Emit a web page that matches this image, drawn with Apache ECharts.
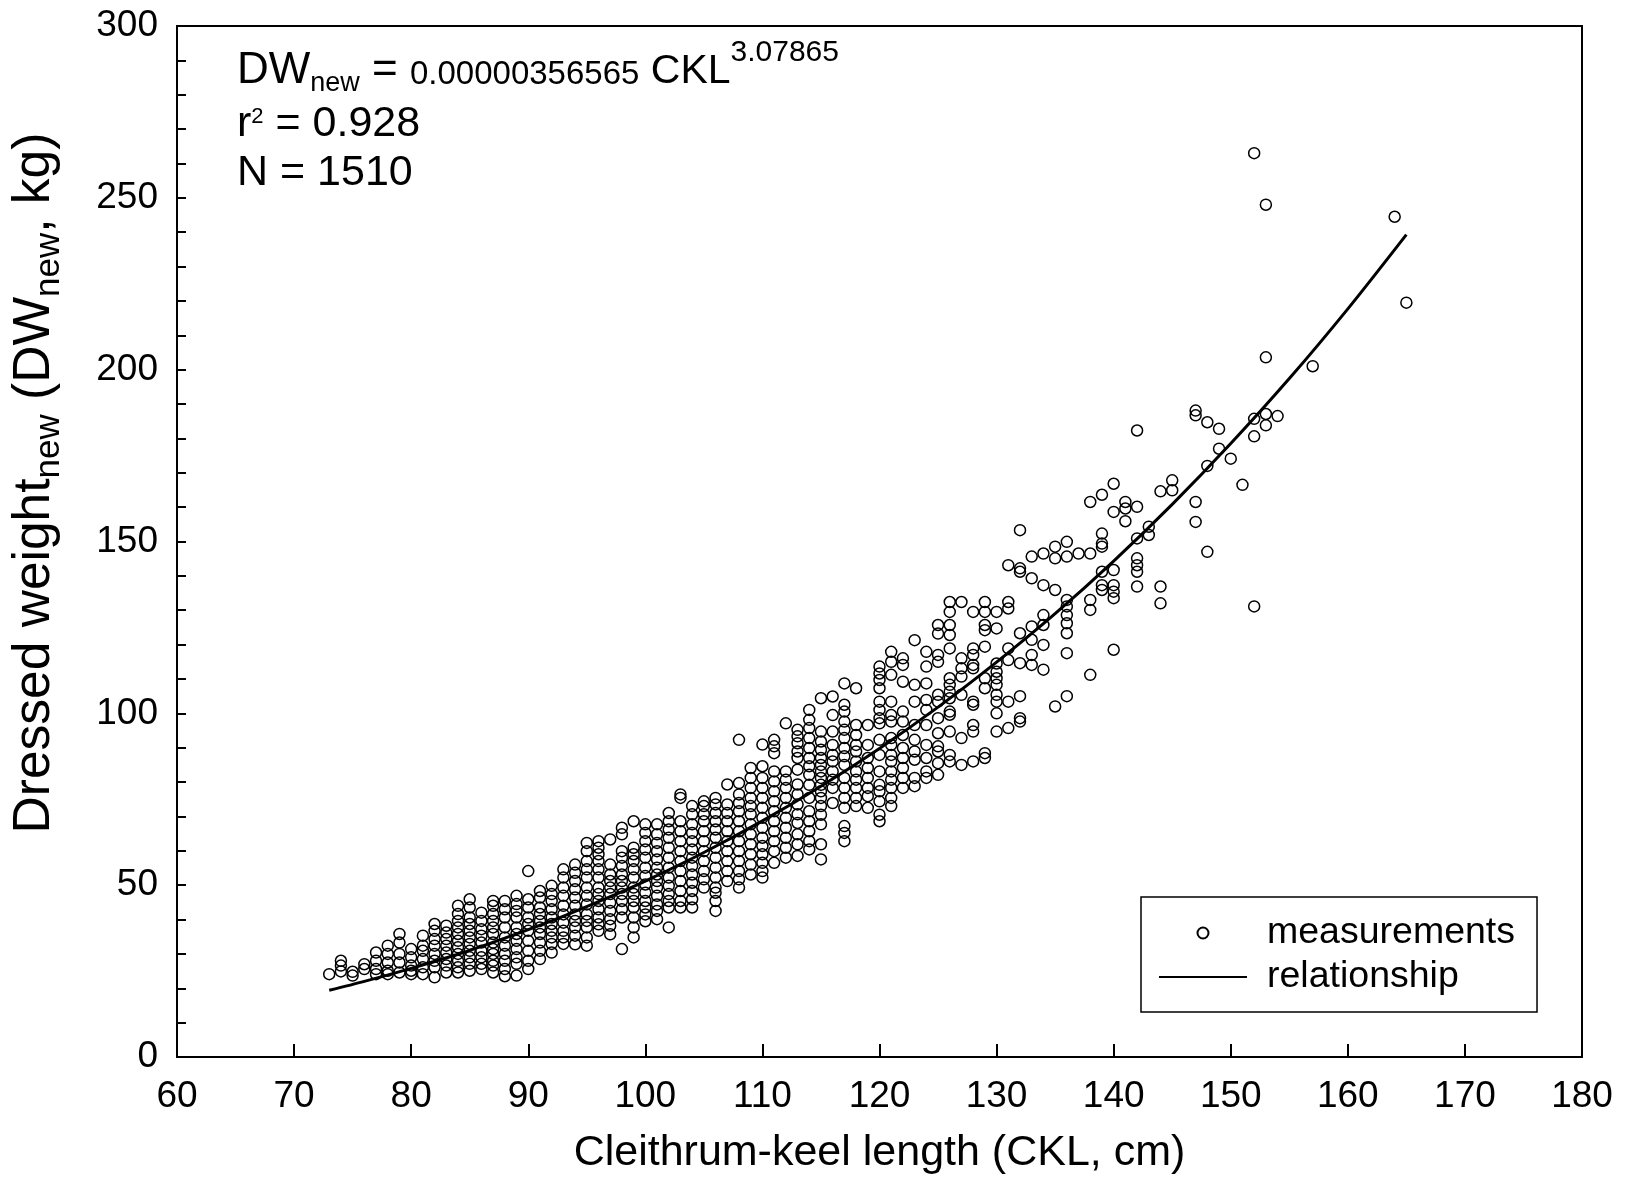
<!DOCTYPE html>
<html>
<head>
<meta charset="utf-8">
<script src="https://cdn.jsdelivr.net/npm/echarts@6/dist/echarts.min.js"></script>
<style>
html,body{margin:0;padding:0;background:#fff;}
#chart{width:1629px;height:1180px;}
</style>
</head>
<body>
<div id="chart"></div>
<script>
// Cleithrum-keel length columns (cm) and the dressed weights (kg) measured at each
const ckl = [73,74,75,76,77,78,79,80,81,82,83,84,85,86,87,88,89,90,91,92,93,94,95,96,97,98,99,100,
  101,102,103,104,105,106,107,108,109,110,111,112,113,114,115,116,117,118,119,120,121,122,123,124,125,
  126,127,128,129,130,131,132,133,134,135,136,137,138,139,140,141,142,143,144,145,147,148,149,150,151,
  152,153,154,157,164,165];
const dwColumns = [
  [24.1],
  [28.0, 26.6, 24.9],
  [24.8, 23.7],
  [27.0, 25.6],
  [30.4, 28.0, 25.6, 24.1],
  [32.4, 30.0, 27.5, 25.1, 24.1],
  [35.8, 33.3, 30.0, 27.5, 24.6],
  [31.4, 29.0, 26.6, 25.1, 24.1],
  [35.3, 32.4, 30.9, 28.5, 26.1, 24.1],
  [38.7, 36.7, 34.3, 32.4, 30.0, 28.0, 26.1, 23.2],
  [38.2, 36.2, 34.3, 32.4, 30.4, 28.5, 26.6, 24.6],
  [44.0, 41.6, 39.6, 37.7, 35.8, 33.8, 31.9, 30.0, 28.0, 26.1, 24.6],
  [45.9, 43.5, 40.6, 38.7, 36.7, 34.8, 32.9, 30.9, 29.0, 27.1, 25.1],
  [42.0, 39.6, 37.2, 35.3, 33.3, 30.9, 29.0, 27.1, 25.6],
  [45.4, 44.0, 41.6, 39.6, 37.7, 35.8, 33.3, 31.4, 30.0, 28.0, 26.6, 24.6],
  [45.4, 43.0, 40.6, 37.7, 34.8, 32.4, 30.0, 28.0, 25.6, 23.5],
  [46.9, 44.5, 42.5, 40.6, 37.7, 35.8, 33.8, 31.4, 29.0, 27.1, 23.7],
  [54.1, 45.9, 43.5, 40.6, 38.7, 36.7, 33.8, 30.9, 28.0, 25.6],
  [48.3, 46.4, 43.5, 41.6, 39.6, 37.7, 35.8, 33.3, 30.9, 28.5],
  [49.8, 47.4, 45.4, 43.0, 40.6, 38.7, 36.7, 34.8, 32.9, 30.4],
  [54.6, 52.2, 49.3, 46.9, 44.0, 41.5, 39.1, 36.7, 34.8, 32.9],
  [56.0, 53.6, 51.2, 48.8, 46.4, 44.0, 41.5, 39.6, 37.7, 35.3, 32.8],
  [62.3, 59.9, 57.0, 54.6, 52.2, 49.3, 46.9, 44.4, 41.5, 39.6, 37.7, 34.8, 32.4],
  [62.8, 60.9, 59.0, 57.0, 54.6, 52.2, 49.3, 47.4, 45.4, 43.0, 40.6, 38.6, 36.7],
  [63.3, 56.0, 53.1, 51.2, 49.3, 47.4, 44.9, 42.5, 40.1, 38.2, 35.7],
  [66.7, 64.8, 59.9, 58.0, 55.6, 53.1, 51.2, 49.3, 47.4, 45.4, 43.0, 40.6, 31.4],
  [68.6, 60.9, 59.0, 57.0, 54.6, 52.2, 49.3, 47.4, 45.4, 43.5, 40.6, 37.7, 34.8],
  [67.7, 65.2, 62.8, 60.4, 58.0, 55.1, 52.7, 50.2, 47.8, 45.4, 43.5, 41.5, 39.5],
  [67.7, 64.8, 62.3, 59.9, 57.5, 55.1, 53.1, 51.2, 49.3, 46.9, 44.4, 42.5, 40.1],
  [71.0, 68.6, 66.2, 63.8, 60.9, 58.0, 55.1, 52.2, 49.8, 47.4, 45.4, 43.5, 37.7],
  [76.4, 75.4, 68.6, 65.7, 62.8, 59.9, 57.0, 54.1, 51.2, 48.3, 45.4, 43.5],
  [73.0, 70.6, 67.7, 65.2, 62.8, 60.4, 58.0, 55.6, 53.1, 50.7, 48.3, 45.9, 43.5],
  [74.4, 73.0, 70.6, 68.6, 65.7, 62.8, 59.9, 57.0, 54.1, 51.7, 49.3],
  [75.4, 73.5, 71.0, 68.6, 66.2, 63.8, 60.9, 58.0, 55.1, 52.2, 49.3, 47.8, 45.4, 42.5],
  [79.3, 73.5, 71.0, 68.6, 65.7, 62.8, 59.9, 57.0, 54.1, 51.2],
  [92.3, 79.7, 76.4, 73.9, 71.5, 68.6, 65.7, 62.8, 59.9, 57.0, 54.1, 51.7, 49.3],
  [84.1, 81.2, 78.3, 75.4, 73.0, 70.6, 67.7, 64.8, 61.9, 59.0, 56.0, 53.1],
  [90.9, 84.6, 81.2, 78.3, 75.4, 72.5, 69.6, 66.7, 63.8, 61.4, 59.0, 56.5, 54.1, 52.2],
  [92.3, 90.4, 88.4, 83.1, 80.2, 77.3, 74.4, 71.5, 68.6, 65.7, 62.8, 59.9, 56.5],
  [97.1, 83.1, 80.7, 78.3, 75.4, 72.5, 69.6, 66.7, 63.8, 60.9, 58.0],
  [95.2, 93.3, 91.3, 88.9, 87.0, 83.6, 79.3, 76.4, 73.5, 70.6, 68.1, 64.8, 61.9, 58.5],
  [101.0, 98.1, 95.7, 92.8, 89.9, 87.0, 84.6, 82.1, 79.2, 75.4, 71.5, 68.6, 65.7, 62.8, 60.4],
  [104.4, 94.7, 91.8, 89.4, 87.0, 85.0, 83.1, 81.2, 79.2, 77.3, 75.4, 73.0, 70.5, 67.7, 61.9, 57.5],
  [104.9, 99.5, 94.7, 90.8, 87.9, 86.0, 83.1, 80.7, 78.3, 73.9],
  [108.7, 102.5, 100.5, 97.6, 95.2, 92.8, 89.9, 87.5, 85.0, 81.2, 78.3, 75.4, 72.5, 67.2, 65.2, 62.8],
  [107.3, 96.6, 93.7, 90.8, 88.9, 86.0, 83.1, 80.7, 78.3, 75.4, 73.0],
  [96.6, 90.8, 87.0, 84.1, 81.2, 78.3, 75.9, 72.5],
  [113.6, 111.6, 109.7, 107.3, 103.4, 101.0, 98.6, 97.1, 92.3, 87.9, 83.1, 79.2, 77.3, 74.4, 70.5, 68.6],
  [117.9, 115.0, 111.2, 103.4, 99.5, 97.6, 92.8, 90.8, 87.9, 86.0, 83.1, 80.7, 78.3, 75.4, 73.0],
  [116.0, 114.1, 109.2, 100.5, 97.6, 93.7, 89.9, 87.0, 84.1, 81.2, 78.3],
  [121.3, 108.3, 103.4, 96.6, 92.3, 88.9, 86.5, 81.2, 78.8],
  [117.9, 113.6, 108.7, 103.9, 101.0, 96.6, 90.8, 87.0, 83.1, 81.2],
  [125.7, 123.2, 117.0, 115.0, 105.4, 103.4, 98.6, 94.2, 90.4, 88.9, 85.5, 82.1],
  [132.4, 129.5, 125.7, 122.8, 118.9, 110.2, 108.3, 106.3, 104.4, 100.5, 99.6, 94.7, 87.9, 86.0],
  [132.4, 116.0, 113.1, 110.7, 105.4, 92.8, 85.0],
  [129.5, 118.9, 117.0, 114.1, 113.1, 103.4, 102.5, 96.6, 94.7, 86.0],
  [132.4, 129.5, 125.7, 124.2, 119.4, 110.2, 107.3, 88.4, 87.0],
  [129.5, 124.7, 114.5, 112.1, 110.2, 108.3, 105.4, 103.4, 100.0, 94.7],
  [143.1, 132.4, 130.5, 118.9, 115.5, 103.4, 95.7],
  [153.3, 142.2, 141.2, 123.3, 114.6, 105.0, 98.6, 97.6],
  [145.6, 139.3, 125.3, 121.4, 117.0, 114.1],
  [146.5, 137.3, 128.6, 125.7, 119.9, 112.7],
  [148.5, 145.1, 135.9, 102.0],
  [149.9, 145.6, 133.0, 131.1, 128.6, 126.2, 123.3, 117.5, 105.0],
  [146.5],
  [161.5, 146.5, 133.0, 130.1, 111.2],
  [163.6, 152.3, 149.4, 148.5, 141.2, 137.3, 135.9],
  [166.8, 158.6, 141.7, 137.3, 135.4, 133.5, 118.5],
  [161.5, 159.6, 155.9],
  [182.3, 160.1, 150.9, 145.1, 143.1, 141.2, 136.9],
  [154.3, 151.9],
  [164.6, 136.9, 132.0],
  [167.8, 164.9],
  [188.1, 186.7, 161.5, 155.7],
  [184.7, 172.0, 147.0],
  [182.8, 177.0],
  [174.1],
  [166.5],
  [263.0, 185.7, 180.6, 131.1],
  [248.0, 203.6, 187.1, 183.8],
  [186.5],
  [201.0],
  [244.5],
  [219.5]
];

// fitted relationship
const curveCkl = [73, 76, 80, 84, 88, 92, 96, 100, 105, 110, 115, 120, 125, 130, 135, 140, 145, 150, 155, 160, 165];
const curveDw  = [19.4, 22.0, 25.8, 29.9, 34.6, 39.6, 45.2, 51.2, 59.5, 68.7, 78.8, 89.8, 101.8, 114.9, 129.0, 144.3, 160.8, 178.5, 197.4, 217.7, 239.3];

// axis ranges
const xRange = {min: 60, max: 180, step: 10};
const yRange = {min: 0, max: 300, step: 50};

const FONT = "'Liberation Sans', Arial, Helvetica, sans-serif";

const measurements = [];
ckl.forEach((x, i) => dwColumns[i].forEach(y => measurements.push([x, y])));
const relationship = curveCkl.map((x, i) => [x, curveDw[i]]);

const chart = echarts.init(document.getElementById('chart'), null, {renderer: 'canvas'});

chart.setOption({
  animation: false,
  backgroundColor: '#ffffff',
  grid: {left: 177, right: 47, top: 26, bottom: 121, show: true, borderColor: '#000', borderWidth: 2, backgroundColor: 'transparent'},
  xAxis: {
    type: 'value', min: xRange.min, max: xRange.max, interval: xRange.step,
    name: 'Cleithrum-keel length (CKL, cm)', nameLocation: 'middle', nameGap: 75,
    nameTextStyle: {fontSize: 43, color: '#000', fontFamily: FONT},
    axisLine: {show: true, lineStyle: {color: '#000', width: 2}},
    axisTick: {show: true, inside: true, length: 13, lineStyle: {color: '#000', width: 2}},
    axisLabel: {fontSize: 37, color: '#000', fontFamily: FONT, margin: 21},
    splitLine: {show: false}
  },
  yAxis: {
    type: 'value', min: yRange.min, max: yRange.max, interval: yRange.step,
    axisLine: {show: true, lineStyle: {color: '#000', width: 2}},
    axisTick: {show: true, inside: true, length: 9, lineStyle: {color: '#000', width: 2}},
    minorTick: {show: true, splitNumber: 5, length: 9, lineStyle: {color: '#000', width: 2}},
    axisLabel: {fontSize: 37, color: '#000', fontFamily: FONT, margin: 19},
    splitLine: {show: false}, minorSplitLine: {show: false}
  },
  legend: {
    orient: 'vertical', left: 1141, top: 897,
    padding: [16, 22, 15, 17],
    itemWidth: 88, itemHeight: 11, itemGap: 4,
    borderColor: '#000', borderWidth: 1.5, borderRadius: 0,
    textStyle: {fontSize: 37.5, color: '#000', fontFamily: FONT, lineHeight: 40, padding: [0, 0, 0, 15]},
    data: [
      {name: 'measurements'},
      {name: 'relationship', itemStyle: {opacity: 0}}
    ]
  },
  graphic: [
    {
      type: 'text', x: 237, y: 45, z: 10,
      style: {
        text: '{a|DW}{s|new}{a| = }{c|0.00000356565}{k| CKL}{p|3.07865}',
        x: 0, y: 0, align: 'left', verticalAlign: 'top',
        rich: {
          a: {fontSize: 44, lineHeight: 52, fontFamily: FONT, fill: '#000'},
          k: {fontSize: 41, lineHeight: 52, fontFamily: FONT, fill: '#000', padding: [2, 0, 0, 0]},
          s: {fontSize: 27, lineHeight: 52, fontFamily: FONT, fill: '#000', padding: [26, 0, 0, 0]},
          c: {fontSize: 33, lineHeight: 52, fontFamily: FONT, fill: '#000', padding: [8, 0, 0, 0]},
          p: {fontSize: 30, lineHeight: 52, fontFamily: FONT, fill: '#000', padding: [0, 0, 36, 0]}
        }
      }
    },
    {
      type: 'text', x: 237, y: 98, z: 10,
      style: {
        text: '{a|r}{p|2}{a| = 0.928}',
        x: 0, y: 0, align: 'left', verticalAlign: 'top',
        rich: {
          a: {fontSize: 43, lineHeight: 52, fontFamily: FONT, fill: '#000'},
          p: {fontSize: 22, lineHeight: 52, fontFamily: FONT, fill: '#000', padding: [0, 0, 15, 0]}
        }
      }
    },
    {
      type: 'text', x: 237, y: 147, z: 10,
      style: {
        text: '{a|N = 1510}',
        x: 0, y: 0, align: 'left', verticalAlign: 'top',
        rich: {
          a: {fontSize: 43, lineHeight: 52, fontFamily: FONT, fill: '#000'}
        }
      }
    },
    {
      type: 'text', x: 35, y: 483, rotation: Math.PI / 2, z: 10,
      style: {
        text: '{a|Dressed weight}{s|new}{a| (DW}{s|new}{a|, kg)}',
        x: 0, y: 0, align: 'center', verticalAlign: 'middle',
        rich: {
          a: {fontSize: 51.5, lineHeight: 60, fontFamily: FONT, fill: '#000'},
          s: {fontSize: 35, lineHeight: 60, fontFamily: FONT, fill: '#000', padding: [28, 0, 0, 0]}
        }
      }
    }
  ],
  series: [
    {
      name: 'measurements', type: 'scatter', data: measurements,
      symbol: 'circle', symbolSize: 11, z: 2,
      itemStyle: {color: 'rgba(255,255,255,0)', borderColor: '#000', borderWidth: 1.5, opacity: 1},
      emphasis: {disabled: true}
    },
    {
      name: 'relationship', type: 'line', data: relationship,
      showSymbol: false, symbol: 'none', smooth: 0.3, z: 3,
      lineStyle: {color: '#000', width: 3},
      itemStyle: {color: '#000'},
      emphasis: {disabled: true}
    }
  ]
});
</script>
</body>
</html>
